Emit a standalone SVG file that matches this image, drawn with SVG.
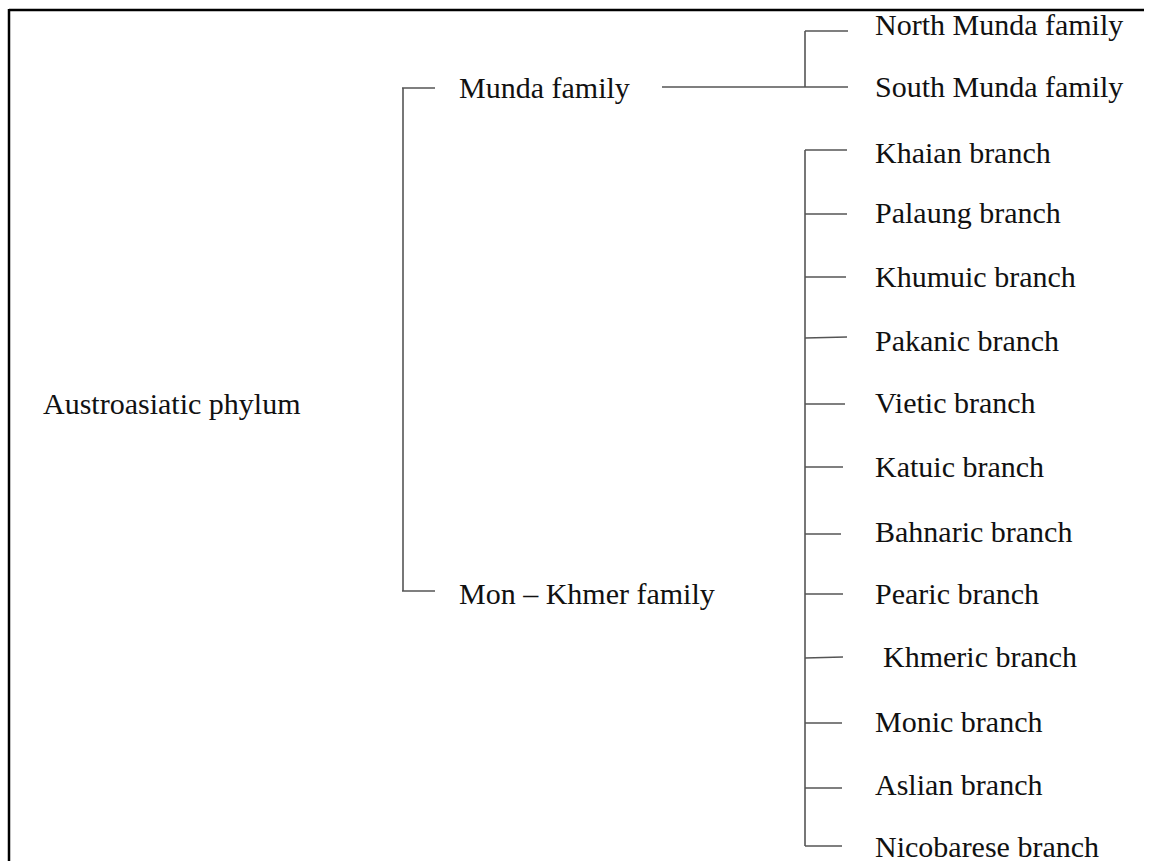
<svg xmlns="http://www.w3.org/2000/svg" width="1154" height="861" viewBox="0 0 1154 861">
<style>
text{font-family:"Liberation Serif","Times New Roman",serif;font-size:30px;fill:#111}
.c line{stroke:#555;stroke-width:1.6}
</style>
<rect width="1154" height="861" fill="#fff"/>
<g id="frame" stroke="#000" stroke-width="2.5">
<line x1="9" y1="10" x2="1144" y2="10"/>
<line x1="9" y1="9" x2="9" y2="861"/>
</g>
<g class="c" id="connectors">
<line x1="403" y1="88" x2="403" y2="591"/>
<line x1="402" y1="88" x2="435" y2="88"/>
<line x1="402" y1="591" x2="435" y2="591"/>
<line x1="662" y1="87" x2="848" y2="87"/>
<line x1="805" y1="31" x2="805" y2="87"/>
<line x1="805" y1="31" x2="848" y2="31"/>
<line x1="805" y1="150" x2="805" y2="846"/>
<line x1="805" y1="150" x2="847" y2="150"/>
<line x1="805" y1="214" x2="847" y2="214"/>
<line x1="805" y1="277" x2="846" y2="277"/>
<line x1="805" y1="338" x2="847" y2="337"/>
<line x1="805" y1="404" x2="845" y2="404"/>
<line x1="805" y1="467" x2="843" y2="467"/>
<line x1="805" y1="534" x2="841" y2="534"/>
<line x1="805" y1="594" x2="843" y2="594"/>
<line x1="805" y1="658" x2="843" y2="657"/>
<line x1="805" y1="723" x2="842" y2="723"/>
<line x1="805" y1="788" x2="842" y2="788"/>
<line x1="805" y1="846" x2="842" y2="846"/>
</g>
<g id="n-austro"><text x="43" y="414">Austroasiatic phylum</text></g>
<g id="n-munda"><text x="459" y="98">Munda family</text></g>
<g id="n-monkhmer"><text x="459" y="604">Mon – Khmer family</text></g>
<g id="n-north"><text x="875" y="35">North Munda family</text></g>
<g id="n-south"><text x="875" y="97">South Munda family</text></g>
<g id="n-khaian"><text x="875" y="163">Khaian branch</text></g>
<g id="n-palaung"><text x="875" y="223">Palaung branch</text></g>
<g id="n-khumuic"><text x="875" y="287">Khumuic branch</text></g>
<g id="n-pakanic"><text x="875" y="351">Pakanic branch</text></g>
<g id="n-vietic"><text x="875" y="413">Vietic branch</text></g>
<g id="n-katuic"><text x="875" y="477">Katuic branch</text></g>
<g id="n-bahnaric"><text x="875" y="542">Bahnaric branch</text></g>
<g id="n-pearic"><text x="875" y="604">Pearic branch</text></g>
<g id="n-khmeric"><text x="883" y="667">Khmeric branch</text></g>
<g id="n-monic"><text x="875" y="732">Monic branch</text></g>
<g id="n-aslian"><text x="875" y="795">Aslian branch</text></g>
<g id="n-nicobarese"><text x="875" y="857">Nicobarese branch</text></g>
</svg>
